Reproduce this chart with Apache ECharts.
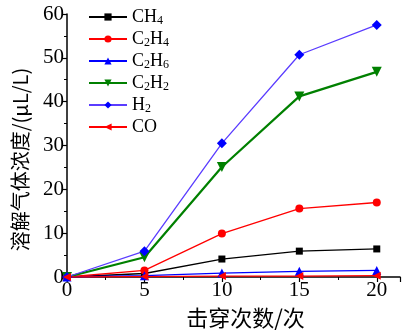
<!DOCTYPE html>
<html>
<head>
<meta charset="utf-8">
<script src="https://cdn.jsdelivr.net/npm/echarts@6/dist/echarts.min.js"></script>
<style>
  html, body { margin: 0; padding: 0; background: #fff; }
  #main { width: 404px; height: 334px; }
</style>
</head>
<body>
<div id="main"></div>
<script>
// breakdown counts
const counts = [0, 5, 10, 15, 20]

// gas concentrations, uL/L
const ch4 = [0, 0.8, 4.1, 5.9, 6.4]
const c2h4 = [0, 1.5, 9.9, 15.6, 17.0]
const c2h6 = [0, 0.3, 0.9, 1.3, 1.5]
const c2h2 = [0, 4.5, 25.1, 41.2, 46.8]
const h2 = [0, 5.9, 30.5, 50.7, 57.5]
const co = [0, 0.1, 0.2, 0.2, 0.3]

const names = ['CH4', 'C2H4', 'C2H6', 'C2H2', 'H2', 'CO']
const labels = {
  CH4: '{n|CH}{s|4}',
  C2H4: '{n|C}{s|2}{n|H}{s|4}',
  C2H6: '{n|C}{s|2}{n|H}{s|6}',
  C2H2: '{n|C}{s|2}{n|H}{s|2}',
  H2: '{n|H}{s|2}',
  CO: '{n|CO}'
}

const serif = 'Liberation Serif'
const cjk = 'Noto Sans CJK SC'

function pairs (ys) {
  return counts.map((x, i) => [x, ys[i]])
}

function line (name, ys, color, symbol, opts) {
  return Object.assign({
    name,
    type: 'line',
    data: pairs(ys),
    symbol,
    symbolSize: 8,
    lineStyle: { color, width: 1.3 },
    itemStyle: { color },
    emphasis: { disabled: true },
    animation: false
  }, opts || {})
}

const chart = echarts.init(document.getElementById('main'))

chart.setOption({
  backgroundColor: '#fff',
  grid: { left: 67, right: 4, top: 14, bottom: 55 },
  legend: {
    data: names,
    orient: 'vertical',
    left: 83,
    top: 2,
    itemWidth: 38,
    itemHeight: 9,
    itemGap: 2,
    formatter: n => labels[n],
    textStyle: {
      fontFamily: serif,
      color: '#000',
      lineHeight: 20,
      rich: {
        n: { fontFamily: serif, fontSize: 18, lineHeight: 20, color: '#000' },
        s: { fontFamily: serif, fontSize: 12, lineHeight: 12, color: '#000', padding: [8, 0, 0, 0] }
      }
    }
  },
  xAxis: {
    type: 'value',
    min: 0,
    max: 21.5,
    interval: 5,
    name: '击穿次数/次',
    nameLocation: 'middle',
    nameGap: 30,
    nameTextStyle: { fontFamily: cjk, fontSize: 22, color: '#000', padding: [0, 0, 0, 24] },
    axisLine: { lineStyle: { color: '#000', width: 1.5 } },
    axisTick: { inside: false, length: 5, lineStyle: { color: '#000', width: 1.2 } },
    minorTick: { show: true, splitNumber: 2, length: 3, lineStyle: { color: '#000', width: 1 } },
    axisLabel: { fontFamily: serif, fontSize: 21, color: '#000', margin: 3, showMaxLabel: false },
    splitLine: { show: false }
  },
  yAxis: {
    type: 'value',
    min: 0,
    max: 60,
    interval: 10,
    name: '溶解气体浓度/(μL/L)',
    nameLocation: 'middle',
    nameGap: 37,
    nameTextStyle: { fontFamily: cjk, fontSize: 20, color: '#000', padding: [0, 28, 0, 0] },
    axisLine: { show: true, lineStyle: { color: '#000', width: 1.5 } },
    axisTick: { show: true, inside: false, length: 5, lineStyle: { color: '#000', width: 1.2 } },
    minorTick: { show: true, splitNumber: 2, length: 3, lineStyle: { color: '#000', width: 1 } },
    axisLabel: { fontFamily: serif, fontSize: 21, color: '#000', margin: 3 },
    splitLine: { show: false }
  },
  series: [
    line('CH4', ch4, '#000000', 'rect', { symbolSize: 7 }),
    line('C2H4', c2h4, '#ff0000', 'circle'),
    line('C2H6', c2h6, '#0000ff', 'triangle', { symbolSize: 9 }),
    line('C2H2', c2h2, '#008000', 'triangle', { symbolSize: 10, symbolRotate: 180, lineStyle: { color: '#008000', width: 2.2 } }),
    line('H2', h2, '#0000ff', 'diamond', { symbolSize: 10, lineStyle: { color: '#5a3cff', width: 1.3 } }),
    line('CO', co, '#ff0000', 'triangle', { symbolSize: 8, symbolRotate: 90 })
  ]
})
</script>
</body>
</html>
